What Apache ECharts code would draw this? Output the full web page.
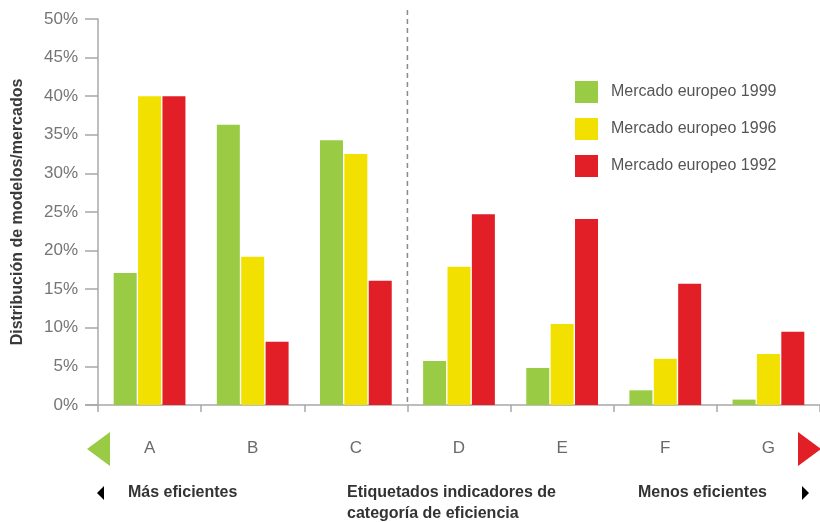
<!DOCTYPE html>
<html>
<head>
<meta charset="utf-8">
<script src="https://cdn.jsdelivr.net/npm/echarts@6/dist/echarts.min.js"></script>
<style>
  html, body { margin: 0; padding: 0; background: #fff; }
  #chart { width: 820px; height: 522px; }
</style>
</head>
<body>
<div id="chart"></div>
<script>
// Efficiency categories (A = most efficient, G = least efficient)
const categories = ['A', 'B', 'C', 'D', 'E', 'F', 'G'];

// Share of models per market (%)
const mercado1999 = [17.1, 36.3, 34.3, 5.7, 4.8, 1.9, 0.7];
const mercado1996 = [40.0, 19.2, 32.5, 17.9, 10.5, 6.0, 6.6];
const mercado1992 = [40.0, 8.2, 16.1, 24.7, 24.1, 15.7, 9.5];

const seriesNames = ['Mercado europeo 1999', 'Mercado europeo 1996', 'Mercado europeo 1992'];
const seriesColors = ['#99cb45', '#f2e100', '#e21f27'];
const yTicks = { min: 0, max: 50, interval: 5 };

const axisGrey = '#a8a8a8';
const textFont = '"Liberation Sans", Arial, sans-serif';

const chart = echarts.init(document.getElementById('chart'), null, { renderer: 'canvas' });

function barSeries(name, data, color) {
  return {
    name: name,
    type: 'bar',
    data: data,
    barWidth: 23,
    barGap: '6%',
    itemStyle: { color: color },
    emphasis: { disabled: true }
  };
}

chart.setOption({
  animation: false,
  backgroundColor: '#ffffff',
  grid: { left: 98, right: 0, top: 19, bottom: 117, containLabel: false, outerBoundsMode: 'none' },
  legend: {
    orient: 'vertical',
    left: 575,
    top: 81,
    padding: 0,
    itemWidth: 23,
    itemHeight: 22,
    itemGap: 15,
    icon: 'rect',
    textStyle: { color: '#555', fontSize: 16, fontFamily: textFont, padding: [0, 0, 0, 8] },
    data: seriesNames
  },
  xAxis: {
    type: 'category',
    data: categories,
    axisLine: { show: true, lineStyle: { color: axisGrey, width: 1.5 } },
    axisTick: { show: true, alignWithLabel: false, length: 7, lineStyle: { color: axisGrey, width: 1.5 } },
    axisLabel: { color: '#6a6a6a', fontSize: 17, fontFamily: textFont, margin: 35 },
    splitLine: { show: false }
  },
  yAxis: {
    type: 'value',
    min: yTicks.min,
    max: yTicks.max,
    interval: yTicks.interval,
    name: 'Distribución de modelos/mercados',
    nameLocation: 'middle',
    nameGap: 72,
    nameTextStyle: { color: '#3a3a3a', fontSize: 16, fontWeight: 'bold', fontFamily: textFont },
    axisLine: { show: true, lineStyle: { color: axisGrey, width: 1.5 } },
    axisTick: { show: true, inside: false, length: 13, lineStyle: { color: axisGrey, width: 1.5 } },
    axisLabel: { color: '#757575', fontSize: 17, fontFamily: textFont, margin: 20, formatter: '{value}%' },
    splitLine: { show: false }
  },
  series: [
    barSeries(seriesNames[0], mercado1999, seriesColors[0]),
    barSeries(seriesNames[1], mercado1996, seriesColors[1]),
    barSeries(seriesNames[2], mercado1992, seriesColors[2])
  ]
});

// Decorations positioned from the axes: divider between C and D, arrows and footer captions
const xC = chart.convertToPixel({ xAxisIndex: 0 }, 'C');
const xD = chart.convertToPixel({ xAxisIndex: 0 }, 'D');
const y0 = chart.convertToPixel({ yAxisIndex: 0 }, 0);
const divX = (xC + xD) / 2;
const arrowY = 449;
const footY = 493;
const footFont = 'bold 16px "Liberation Sans", Arial, sans-serif';

chart.setOption({
  graphic: [
    {
      type: 'line', silent: true,
      shape: { x1: divX, y1: 10, x2: divX, y2: y0 },
      style: { stroke: '#8a8a8a', lineWidth: 1.5, lineDash: [5, 4] }
    },
    {
      type: 'line', silent: true,
      shape: { x1: 85, y1: y0, x2: 98, y2: y0 },
      style: { stroke: axisGrey, lineWidth: 1.5 }
    },
    {
      type: 'polygon', silent: true,
      shape: { points: [[110, arrowY - 17], [110, arrowY + 17], [87, arrowY]] },
      style: { fill: '#99cb45' }
    },
    {
      type: 'polygon', silent: true,
      shape: { points: [[798, arrowY - 17], [798, arrowY + 17], [821, arrowY]] },
      style: { fill: '#e21f27' }
    },
    {
      type: 'polygon', silent: true,
      shape: { points: [[104, footY - 7], [104, footY + 7], [97, footY]] },
      style: { fill: '#000' }
    },
    {
      type: 'polygon', silent: true,
      shape: { points: [[802, footY - 7], [802, footY + 7], [809, footY]] },
      style: { fill: '#000' }
    },
    {
      type: 'text', silent: true, x: 128, y: footY,
      style: { text: 'Más eficientes', font: footFont, fill: '#333', verticalAlign: 'middle' }
    },
    {
      type: 'text', silent: true, x: 347, y: footY,
      style: { text: 'Etiquetados indicadores de', font: footFont, fill: '#333', verticalAlign: 'middle' }
    },
    {
      type: 'text', silent: true, x: 347, y: footY + 21,
      style: { text: 'categoría de eficiencia', font: footFont, fill: '#333', verticalAlign: 'middle' }
    },
    {
      type: 'text', silent: true, x: 638, y: footY,
      style: { text: 'Menos eficientes', font: footFont, fill: '#333', verticalAlign: 'middle' }
    }
  ]
});
</script>
</body>
</html>
